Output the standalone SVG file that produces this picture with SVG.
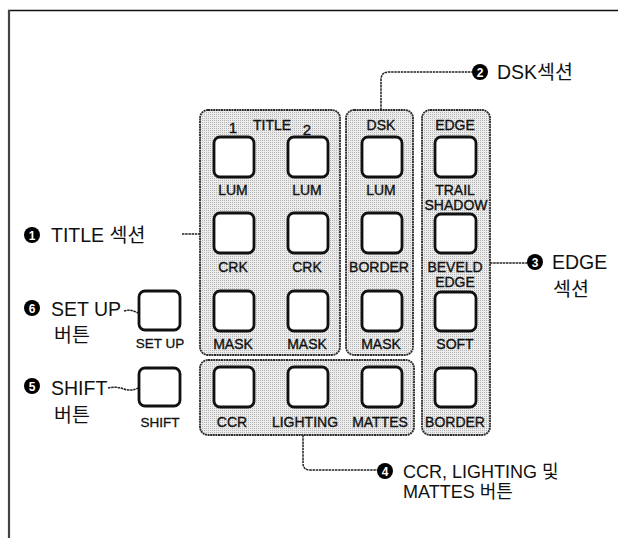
<svg xmlns="http://www.w3.org/2000/svg" width="618" height="538" viewBox="0 0 618 538">
<defs>
<pattern id="dots" width="2" height="2" patternUnits="userSpaceOnUse">
<rect width="2" height="2" fill="#ececec"/>
<rect width="1" height="1" fill="#b4b4b4"/>
</pattern>
</defs>
<style>
.panel{fill:url(#dots);stroke:#2a2a2a;stroke-width:1.8;stroke-dasharray:2 0.6}
.btn{fill:#fff;stroke:#111;stroke-width:2.8}
.lbl{font-family:"Liberation Sans",Arial,sans-serif;font-size:14px;fill:#111;stroke:#111;stroke-width:0.35;text-anchor:middle}
.sm{font-family:"Liberation Sans",Arial,sans-serif;font-size:13.5px;fill:#111;stroke:#111;stroke-width:0.3;text-anchor:middle}
.call{font-family:"Liberation Sans","Noto Sans CJK KR",sans-serif;font-size:19.5px;fill:#111}
.num{font-family:"Liberation Sans",Arial,sans-serif;font-size:12px;font-weight:bold;fill:#fff;text-anchor:middle}
.conn{fill:none;stroke:#222;stroke-width:1.5;stroke-dasharray:2.5 0.7}
</style>
<rect width="618" height="538" fill="#fff"/>
<line x1="8" y1="10.5" x2="618" y2="10.5" stroke="#111" stroke-width="1.5"/>
<line x1="9" y1="10" x2="9" y2="538" stroke="#444" stroke-width="2.2"/>

<g id="connectors">
<path class="conn" d="M182 234 H200"/>
<path class="conn" d="M381 110 V80 Q381 72 389 72 H473"/>
<path class="conn" d="M490 263 H528"/>
<path class="conn" d="M303 435 V463 Q303 470 310 470 H378"/>
<path class="conn" d="M124 311 Q130 309 136 312 T148 311 H160"/>
<path class="conn" d="M108 388 Q116 386 124 389 T140 387 H160"/>
<circle cx="160" cy="311" r="2.2" fill="#333"/>
<circle cx="160" cy="387" r="2.2" fill="#333"/>
</g>

<g id="title-section">
<rect class="panel" x="200" y="110" width="140" height="245" rx="8"/>
<text class="lbl" x="272" y="130">TITLE</text>
<text class="lbl" x="233" y="133" style="font-size:15px">1</text>
<text class="lbl" x="307" y="135" style="font-size:15px">2</text>
<rect class="btn" x="214" y="137" width="40" height="40" rx="6"/>
<rect class="btn" x="288" y="137" width="40" height="40" rx="6"/>
<text class="lbl" x="233" y="195">LUM</text>
<text class="lbl" x="307" y="195">LUM</text>
<rect class="btn" x="214" y="213" width="40" height="40" rx="6"/>
<rect class="btn" x="288" y="213" width="40" height="40" rx="6"/>
<text class="lbl" x="233" y="272">CRK</text>
<text class="lbl" x="307" y="272">CRK</text>
<rect class="btn" x="214" y="291" width="40" height="40" rx="6"/>
<rect class="btn" x="288" y="291" width="40" height="40" rx="6"/>
<text class="lbl" x="233" y="349">MASK</text>
<text class="lbl" x="307" y="349">MASK</text>
</g>

<g id="dsk-section">
<rect class="panel" x="346" y="110" width="67" height="245" rx="8"/>
<text class="lbl" x="381" y="130">DSK</text>
<rect class="btn" x="362" y="137" width="40" height="40" rx="6"/>
<text class="lbl" x="381" y="195">LUM</text>
<rect class="btn" x="362" y="213" width="40" height="40" rx="6"/>
<text class="lbl" x="379" y="272">BORDER</text>
<rect class="btn" x="362" y="291" width="40" height="40" rx="6"/>
<text class="lbl" x="381" y="349">MASK</text>
</g>

<g id="edge-section">
<rect class="panel" x="422" y="110" width="68" height="325" rx="8"/>
<text class="lbl" x="455" y="130">EDGE</text>
<rect class="btn" x="435" y="137" width="41" height="40" rx="6"/>
<text class="lbl" x="455" y="195">TRAIL</text>
<text class="lbl" x="456" y="210">SHADOW</text>
<rect class="btn" x="435" y="214" width="41" height="39" rx="6"/>
<text class="lbl" x="455" y="272">BEVELD</text>
<text class="lbl" x="455" y="287">EDGE</text>
<rect class="btn" x="435" y="292" width="41" height="39" rx="6"/>
<text class="lbl" x="455" y="349">SOFT</text>
<rect class="btn" x="435" y="368" width="41" height="39" rx="6"/>
<text class="lbl" x="455" y="427">BORDER</text>
</g>

<g id="ccr-section">
<rect class="panel" x="200" y="360" width="214" height="75" rx="8"/>
<rect class="btn" x="214" y="367" width="40" height="40" rx="6"/>
<rect class="btn" x="288" y="367" width="40" height="40" rx="6"/>
<rect class="btn" x="362" y="367" width="40" height="40" rx="6"/>
<text class="lbl" x="232" y="427">CCR</text>
<text class="lbl" x="305" y="427">LIGHTING</text>
<text class="lbl" x="380" y="427">MATTES</text>
</g>

<g id="setup-button">
<rect class="btn" x="139" y="291" width="41" height="39" rx="6"/>
<text class="sm" x="160" y="348">SET UP</text>
</g>

<g id="shift-button">
<rect class="btn" x="139" y="368" width="41" height="38" rx="6"/>
<text class="sm" x="160" y="427">SHIFT</text>
</g>

<g id="callout-1">
<circle cx="32" cy="235" r="8" fill="#000"/>
<text class="num" x="32" y="239.5">1</text>
<text class="call" x="51" y="242">TITLE 섹션</text>
</g>
<g id="callout-2">
<circle cx="480" cy="72" r="8" fill="#000"/>
<text class="num" x="480" y="76.5">2</text>
<text class="call" x="497" y="79">DSK섹션</text>
</g>
<g id="callout-3">
<circle cx="535" cy="262" r="8" fill="#000"/>
<text class="num" x="535" y="266.5">3</text>
<text class="call" x="552" y="269">EDGE</text>
<text class="call" x="553" y="296">섹션</text>
</g>
<g id="callout-4">
<circle cx="385" cy="471" r="8" fill="#000"/>
<text class="num" x="385" y="475.5">4</text>
<text class="call" x="403" y="478" style="font-size:18px">CCR, LIGHTING 및</text>
<text class="call" x="403" y="498" style="font-size:18px">MATTES 버튼</text>
</g>
<g id="callout-5">
<circle cx="32" cy="386" r="8" fill="#000"/>
<text class="num" x="32" y="390.5">5</text>
<text class="call" x="51" y="395">SHIFT</text>
<text class="call" x="54" y="422">버튼</text>
</g>
<g id="callout-6">
<circle cx="32" cy="308" r="8" fill="#000"/>
<text class="num" x="32" y="312.5">6</text>
<text class="call" x="51" y="316">SET UP</text>
<text class="call" x="54" y="342">버튼</text>
</g>
</svg>
